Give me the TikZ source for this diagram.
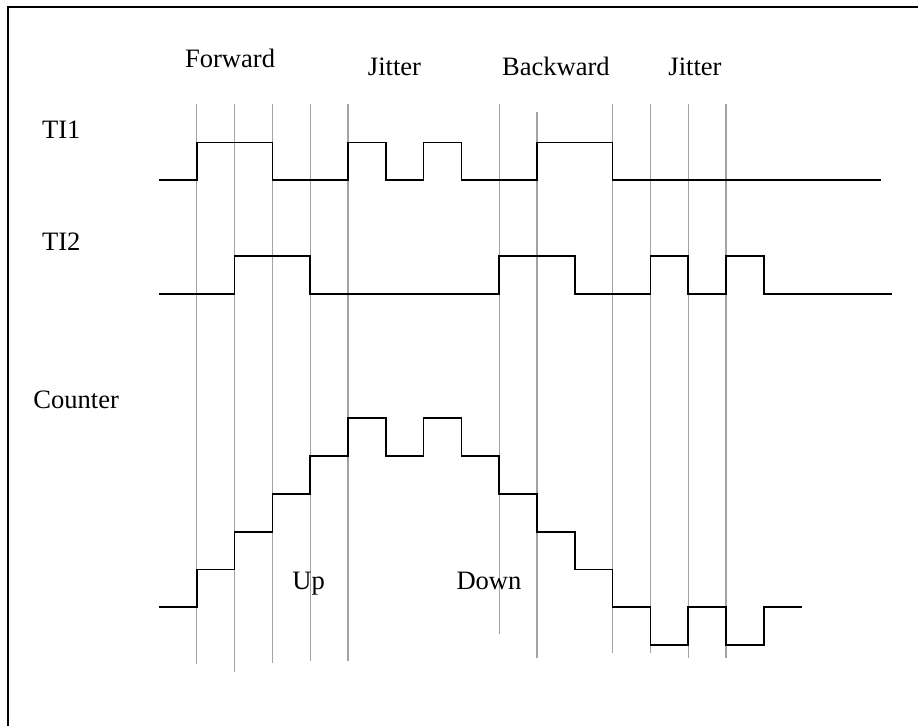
\documentclass[tikz,border=0pt]{standalone}
\usepackage{fontspec}
\setmainfont{Liberation Serif}
\usetikzlibrary{positioning}

\begin{document}
\begin{tikzpicture}[
    lbl/.style={font=\fontsize{20}{24}\selectfont, inner sep=0pt},
    sig/.style={line width=1.25pt, black},
    gline/.style={line width=0.95pt, gray!72}
]
\useasboundingbox (-4.206,-3.14) rectangle (20.08,16.066);
% frame (only top and left edges fall inside the page)
\draw[line width=1.5pt] (-3.99,-3.3) |- (20.3,15.89);

% time marks
\foreach \t/\top/\bot in {1/13.31/-1.51, 2/13.31/-1.71, 3/13.31/-1.47, 4/13.31/-1.42,
    5/13.31/-1.42, 9/13.31/-0.71, 10/13.10/-1.34, 12/13.31/-1.21,
    13/13.31/-1.21, 14/13.31/-1.34, 15/13.31/-1.34}
  \draw[gline] (\t,\top) -- (\t,\bot);

% phase labels
\node[lbl, anchor=base] (fwd)  at (1.88,14.28) {Forward};
\node[lbl, anchor=base] (jit1) at (6.23,14.08) {Jitter};
\node[lbl, anchor=base] (bwd)  at (10.50,14.08) {Backward};
\node[lbl, anchor=base] (jit2) at (14.18,14.08) {Jitter};

% signal names
\node[lbl, anchor=base west] (ti1) at (-3.10,12.41) {TI1};
\node[lbl, anchor=base west] (ti2) at (-3.10,9.45) {TI2};
\node[lbl, anchor=base west] (cnt) at (-3.33,5.26) {Counter};

% waveforms
\draw[sig] (0,11.3) -| (1,12.3) -| (3,11.3) -| (5,12.3) -| (6,11.3) -| (7,12.3)
    -| (8,11.3) -| (10,12.3) -| (12,11.3) -- (19.1,11.3);
\draw[sig] (0,8.29) -| (2,9.29) -| (4,8.29) -| (9,9.29) -| (11,8.29) -| (13,9.29)
    -| (14,8.29) -| (15,9.29) -| (16,8.29) -- (19.39,8.29);
\draw[sig] (0,0) -| (1,1) -| (2,2) -| (3,3) -| (4,4) -| (5,5) -| (6,4) -| (7,5)
    -| (8,4) -| (9,3) -| (10,2) -| (11,1) -| (12,0) -| (13,-1) -| (14,0)
    -| (15,-1) -| (16,0) -- (17,0);

% direction labels
\node[lbl, anchor=base] (up)   at (3.96,0.476) {Up};
\node[lbl, anchor=base] (down) at (8.73,0.476) {Down};
\end{tikzpicture}
\end{document}
